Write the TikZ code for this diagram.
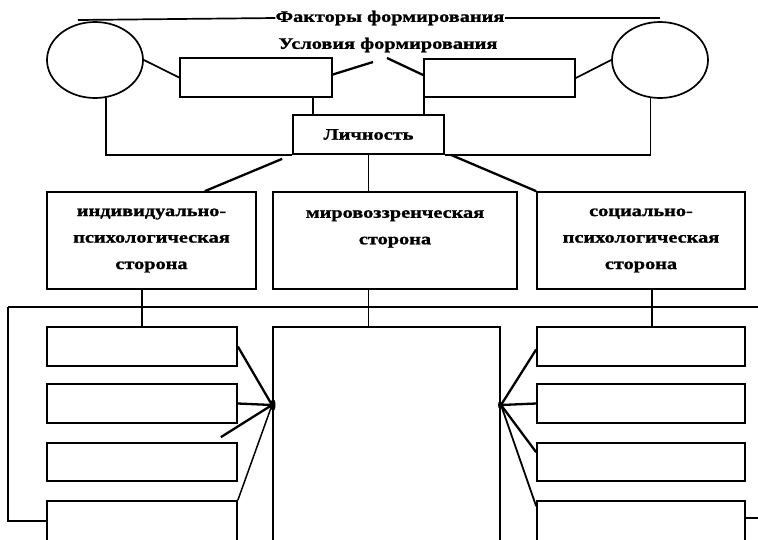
\documentclass[tikz,border=0pt]{standalone}
\usepackage{fontspec}
\newfontfamily\wf{Liberation Serif}[FakeStretch=1.27,FakeBold=1.2]
\usetikzlibrary{shapes.geometric}
\begin{document}
\begin{tikzpicture}[x=1pt,y=-1pt,
  ln/.style={line width=1.7pt},
  fan/.style={line width=2.3pt},
  bx/.style={draw,line width=1.7pt,inner sep=0pt,minimum width=#1},
  ov/.style={draw,ellipse,line width=1.7pt,minimum width=96pt,minimum height=76pt,inner sep=0pt},
  tx/.style={font={\wf\bfseries\fontsize{16}{26.5}\selectfont},align=center,inner sep=0pt}]
\clip (0,0) rectangle (758,539);
\fill[white] (0,0) rectangle (758,539);
% top
\node[ov] (ellL) at (95,60) {};
\node[ov] (ellR) at (660,60) {};
\node[tx] (fak) at (390,18) {Факторы формирования};
\node[tx] (usl) at (388,45) {Условия формирования};
\node[bx=152pt,minimum height=39pt] (rectL) at (256,77.5) {};
\node[bx=151pt,minimum height=38pt] (rectR) at (499.5,78) {};
\node[bx=151pt,minimum height=39pt,tx] (lich) at (368.5,134.5) {Личность};
% sides
\node[bx=209pt,minimum height=97pt,tx] (boxA) at (151.5,240.5) {индивидуально-\\психологическая\\сторона};
\node[bx=244pt,minimum height=97pt,tx] (boxB) at (395,240.5) {мировоззренческая\\сторона\\\mbox{}};
\node[bx=208pt,minimum height=97pt,tx] (boxC) at (641,240.5) {социально-\\психологическая\\сторона};
% bottom
\foreach \i/\y/\h in {1/346.5/39,2/403.5/39,3/462/38,4/521/40}{
  \node[bx=190pt,minimum height=\h pt] (sL\i) at (142,\y) {};
  \node[bx=208pt,minimum height=\h pt] (sR\i) at (641,\y) {};
}
\node[bx=227pt,minimum height=216pt] (big) at (386.5,435) {};
\coordinate (vl) at (373,62);
\coordinate (vr) at (387,58);
\coordinate (busL) at (8,307);
\coordinate (busR) at (762,307);
\coordinate (eR) at (762,518);
\coordinate (hubL) at (272,405);
\coordinate (hubR) at (501,405);
\coordinate (topL) at (78,20);
% connectors top
\draw[ln] (topL) -- (fak.west);
\draw[ln] (fak.east) -- (fak.east -| ellR.north);
\draw[ln] (ellL.east) -- (rectL.west);
\draw[ln] (rectR.east) -- (ellR.west);
\draw[fan] ([yshift=3pt]rectL.east) -- (vl);
\draw[fan] (vr) -- ([yshift=3pt]rectR.west);
\draw[ln] ([xshift=-20pt]rectL.south east) -- ([xshift=-20pt]rectL.south east |- lich.north);
\draw[ln] ([xshift=1pt]rectR.south west) -- ([xshift=1pt]rectR.south west |- lich.north);
\draw[ln] (ellL.-74) |- (lich.south west);
\draw[ln] (ellR.-104) |- (lich.south east);
\draw[fan] ([xshift=-10pt,yshift=-4pt]lich.south west) -- ([xshift=-52pt]boxA.north east);
\draw[fan] ([xshift=6pt]lich.south east) -- (boxC.north west);
\draw[ln] (lich.south) -- (lich.south |- boxB.north);
% bottom connectors
\draw[ln] (busL) -- (busR);
\draw[ln] (sL4.west) -| (busL);
\draw[ln] (sL1.north) -- (sL1.north |- boxA.south);
\draw[ln] (lich.south |- big.north) -- (lich.south |- boxB.south);
\draw[ln] ([xshift=11pt]sR1.north) -- ([xshift=11pt]sR1.north |- boxC.south);
\draw[ln] ([yshift=3pt]sR4.east) -- ([yshift=3pt]sR4.east -| eR);
% fans
\draw[fan] (sL1.east) -- (hubL);
\draw[fan] (sL2.east) -- (hubL);
\draw[fan] ([xshift=-17pt,yshift=5pt]sL3.north east) -- (hubL);
\draw[line width=1.5pt] (sL4.north east) -- (hubL);
\draw[fan] (hubR) -- ([yshift=-3pt]sR1.west);
\draw[fan] (hubR) -- (sR2.west);
\draw[fan] (hubR) -- ([yshift=-10pt]sR3.north west);
\draw[line width=1.8pt] (hubR) -- ([yshift=-6pt]sR4.north west);
\fill ([xshift=1pt]hubL) ellipse (2.5pt and 6pt);
\fill ([xshift=-1pt]hubR) ellipse (2pt and 4pt);
\end{tikzpicture}
\end{document}
